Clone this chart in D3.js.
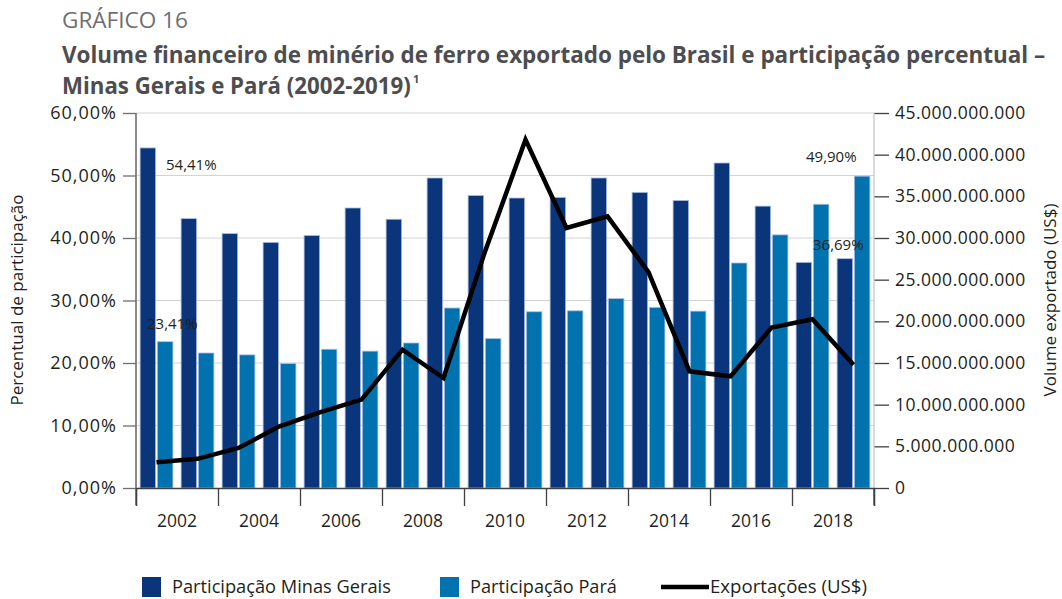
<!DOCTYPE html>
<html>
<head>
<meta charset="utf-8">
<script src="https://cdn.jsdelivr.net/npm/d3@7"></script>
<style>
  body { margin: 0; background: #fff; }
  text { font-family: "Open Sans", "Noto Sans", sans-serif; fill: #231f20; }
</style>
</head>
<body>
<div id="chart"></div>
<script>
// data
const years = [2002, 2003, 2004, 2005, 2006, 2007, 2008, 2009, 2010, 2011, 2012, 2013, 2014, 2015, 2016, 2017, 2018, 2019]
const minasGerais = [54.41, 43.1, 40.7, 39.3, 40.4, 44.8, 43.0, 49.6, 46.8, 46.4, 46.5, 49.6, 47.3, 46.0, 52.0, 45.1, 36.1, 36.69]
const para = [23.41, 21.6, 21.3, 19.9, 22.2, 21.9, 23.2, 28.8, 23.9, 28.2, 28.35, 30.3, 28.9, 28.3, 36.0, 40.5, 45.4, 49.90]
const exportacoes = [3.1e9, 3.5e9, 4.8e9, 7.4e9, 9.1e9, 10.6e9, 16.6e9, 13.2e9, 28.2e9, 41.8e9, 31.2e9, 32.6e9, 25.9e9, 14.0e9, 13.4e9, 19.25e9, 20.25e9, 14.8e9]
const pctTicks = [0, 10, 20, 30, 40, 50, 60]
const usdTicks = [0, 5e9, 10e9, 15e9, 20e9, 25e9, 30e9, 35e9, 40e9, 45e9]
const yearLabels = [2002, 2004, 2006, 2008, 2010, 2012, 2014, 2016, 2018]
// which values carry a label: [series, index]
const labelled = [["mg", 0], ["pa", 0], ["pa", 17], ["mg", 17]]

const WIDTH = 1062
const HEIGHT = 599
const LEFT = 136, RIGHT = 874, TOP = 113, BOTTOM = 488

const MG_COLOR = "#0b357b"
const PA_COLOR = "#0072b0"

const br = d3.formatLocale({ decimal: ",", thousands: ".", grouping: [3], currency: ["R$", ""] })
const pct = (v) => br.format(".2f")(v) + "%"

const svg = d3.select("#chart")
  .append("svg")
  .attr("width", WIDTH)
  .attr("height", HEIGHT)

// squeeze a text horizontally to a given width (the original uses a condensed face)
const condensed = (sel, x, y, width) => {
  const w = sel.node().getComputedTextLength()
  sel.attr("transform", `translate(${x},${y}) scale(${width / w},1)`)
  return sel
}

// titles
condensed(svg.append("text")
  .style("font-size", "21px").style("fill", "#6d6e71")
  .text("GRÁFICO 16"), 62, 28, 126)

condensed(svg.append("text")
  .style("font-size", "23px").style("font-weight", "bold").style("fill", "#4d4d4f")
  .text("Volume financeiro de minério de ferro exportado pelo Brasil e participação percentual –"), 62, 63, 984)

condensed(svg.append("text")
  .style("font-size", "23px").style("font-weight", "bold").style("fill", "#4d4d4f")
  .text("Minas Gerais e Pará (2002-2019)"), 62, 94, 349)
svg.append("text")
  .attr("x", 413).attr("y", 83)
  .style("font-size", "11px").style("font-weight", "bold").style("fill", "#4d4d4f")
  .text("1")

// scales
const x0 = d3.scaleBand().domain(years).range([LEFT, RIGHT]).paddingInner(0.2).paddingOuter(0.1)
const x1 = d3.scaleBand().domain(["mg", "pa"]).range([0, x0.bandwidth()]).paddingInner(0.1)
const xYear = d3.scaleLinear().domain([2002, 2020]).range([LEFT, RIGHT])
const yPct = d3.scaleLinear().domain([0, 60]).range([BOTTOM, TOP])
const yUsd = d3.scaleLinear().domain([0, 45e9]).range([BOTTOM, TOP])

// grid
svg.append("g")
  .selectAll("line")
  .data(pctTicks.slice(1))
  .enter()
  .append("line")
  .attr("x1", LEFT).attr("x2", RIGHT)
  .attr("y1", (d) => yPct(d)).attr("y2", (d) => yPct(d))
  .attr("stroke", "#d3d3d3").attr("stroke-width", 1.2)

// bars
const rows = years.map((year, i) => ({ year, mg: minasGerais[i], pa: para[i] }))
const groups = svg.append("g")
  .selectAll("g")
  .data(rows)
  .enter()
  .append("g")
  .attr("transform", (d) => `translate(${x0(d.year)},0)`)

groups.selectAll("rect")
  .data((d) => ["mg", "pa"].map((key) => ({ key, value: d[key] })))
  .enter()
  .append("rect")
  .attr("x", (d) => x1(d.key))
  .attr("width", x1.bandwidth())
  .attr("y", (d) => yPct(d.value))
  .attr("height", (d) => BOTTOM - yPct(d.value))
  .attr("fill", (d) => d.key === "mg" ? MG_COLOR : PA_COLOR)
  .attr("stroke", "#a9bddc")
  .attr("stroke-width", 0.8)

// exports line
const line = d3.line()
  .x((d, i) => x0(years[i]) + x0.bandwidth() / 2)
  .y((d) => yUsd(d))

svg.append("path")
  .datum(exportacoes)
  .attr("d", line)
  .attr("fill", "none")
  .attr("stroke", "#000")
  .attr("stroke-width", 4.5)
  .attr("stroke-linejoin", "miter")

// left axis
const leftAxis = svg.append("g")
  .attr("transform", `translate(${LEFT},0)`)
  .call(d3.axisLeft(yPct).tickValues(pctTicks).tickFormat(pct).tickSize(13).tickPadding(6))
leftAxis.select(".domain").remove()
leftAxis.selectAll(".tick line").attr("stroke", "#6d6e71").attr("stroke-width", 1.3)
leftAxis.selectAll(".tick text")
  .style("font-size", "18px").style("letter-spacing", "1px")
  .style("font-family", null).attr("fill", null)
leftAxis.append("line")
  .attr("y1", TOP).attr("y2", 505)
  .attr("stroke", "#6d6e71").attr("stroke-width", 1.6)

// right axis
const rightAxis = svg.append("g")
  .attr("transform", `translate(${RIGHT},0)`)
  .call(d3.axisRight(yUsd).tickValues(usdTicks).tickFormat(br.format(",")).tickSize(15).tickPadding(6))
rightAxis.select(".domain").remove()
rightAxis.selectAll(".tick line").attr("stroke", "#404041").attr("stroke-width", 1.3)
rightAxis.selectAll(".tick text")
  .style("font-size", "17.5px").style("letter-spacing", "0.5px")
  .style("font-family", null).attr("fill", null)
rightAxis.append("line")
  .attr("y1", TOP).attr("y2", BOTTOM)
  .attr("stroke", "#c8c8c8").attr("stroke-width", 1.3)
rightAxis.append("line")
  .attr("y1", BOTTOM).attr("y2", 505)
  .attr("stroke", "#404041").attr("stroke-width", 1.3)

// bottom axis
const bottomAxis = svg.append("g")
  .attr("transform", `translate(0,${BOTTOM})`)
  .call(d3.axisBottom(xYear).tickValues(d3.range(2002, 2021, 2)).tickFormat("").tickSize(18))
bottomAxis.select(".domain").attr("stroke", "#404041").attr("stroke-width", 1.3)
bottomAxis.selectAll(".tick line").attr("stroke", "#404041").attr("stroke-width", 1.3)

svg.append("g")
  .selectAll("text")
  .data(yearLabels)
  .enter()
  .append("text")
  .attr("text-anchor", "middle")
  .style("font-size", "19px")
  .text((d) => d)
  .each(function (d) { condensed(d3.select(this), xYear(d + 1), 527, 40) })

// axis titles
svg.append("text")
  .attr("transform", `translate(23,300) rotate(-90)`)
  .attr("text-anchor", "middle")
  .style("font-size", "17px")
  .text("Percentual de participação")

svg.append("text")
  .attr("transform", `translate(1056,300) rotate(-90)`)
  .attr("text-anchor", "middle")
  .style("font-size", "17px")
  .text("Volume exportado (US$)")

// value labels
const labelPos = {
  "mg0": [166, 170],
  "pa0": [147, 329],
  "pa17": [806, 162],
  "mg17": [813, 250]
}
svg.append("g")
  .selectAll("text")
  .data(labelled)
  .enter()
  .append("text")
  .attr("x", (d) => labelPos[d[0] + d[1]][0])
  .attr("y", (d) => labelPos[d[0] + d[1]][1])
  .style("font-size", "15px")
  .text((d) => pct(d[0] === "mg" ? minasGerais[d[1]] : para[d[1]]))

// legend
const legend = svg.append("g")
const legendItems = [
  { name: "Participação Minas Gerais", color: MG_COLOR, x: 142, w: 219 },
  { name: "Participação Pará", color: PA_COLOR, x: 440, w: 147 }
]
legendItems.forEach((item) => {
  legend.append("rect")
    .attr("x", item.x).attr("y", 577)
    .attr("width", 19).attr("height", 20)
    .attr("fill", item.color)
  condensed(legend.append("text")
    .style("font-size", "19px")
    .text(item.name), item.x + 30, 593, item.w)
})
legend.append("line")
  .attr("x1", 661).attr("x2", 709)
  .attr("y1", 587).attr("y2", 587)
  .attr("stroke", "#000").attr("stroke-width", 4.5)
condensed(legend.append("text")
  .style("font-size", "18.5px")
  .text("Exportações (US$)"), 710, 593, 157)
</script>
</body>
</html>
